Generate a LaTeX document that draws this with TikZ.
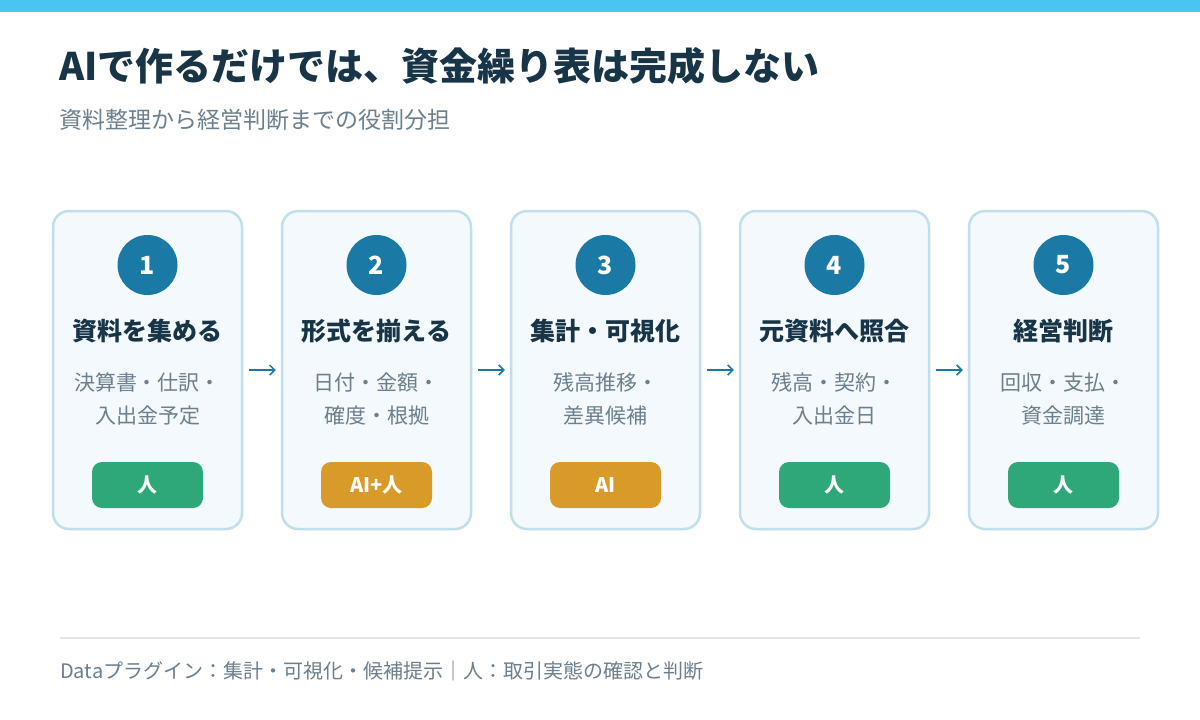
\documentclass[tikz,border=0pt]{standalone}
\usepackage{fontspec}
\setmainfont{Noto Sans CJK JP}
\usetikzlibrary{arrows.meta}

\definecolor{topbar}{HTML}{4AC5EF}
\definecolor{navy}{HTML}{183447}
\definecolor{greytext}{HTML}{6B7F8E}
\definecolor{cardfill}{HTML}{F3F9FC}
\definecolor{cardline}{HTML}{C1DFEA}
\definecolor{stepblue}{HTML}{1A7AA5}
\definecolor{humangreen}{HTML}{2EA878}
\definecolor{aiorange}{HTML}{D89B2A}
\definecolor{rulegrey}{HTML}{DCE6EC}

\tikzset{
  card/.style={draw=cardline, line width=2.5pt, fill=cardfill, rounded corners=16pt,
    minimum width=189pt, minimum height=318pt, inner sep=0pt},
  numdot/.style={circle, fill=stepblue, minimum size=60pt, inner sep=0pt,
    text=white, font=\fontsize{25}{28}\selectfont\bfseries},
  stephead/.style={text=navy, font=\fontsize{25}{28}\selectfont\bfseries},
  stepdesc/.style={text=greytext, align=center, font=\fontsize{21}{33}\selectfont},
  badge/.style={rounded corners=10pt, minimum width=111pt, minimum height=46pt,
    inner sep=0pt, text=white, font=\fontsize{20}{22}\selectfont\bfseries},
  flow/.style={draw=stepblue, line width=1.5pt, -{Straight Barb[length=5pt,width=10pt]},
    shorten <=6pt, shorten >=5pt}
}

\begin{document}
\begin{tikzpicture}[x=1pt, y=-1pt]
\useasboundingbox (0,0) rectangle (1200,720);
\fill[white] (0,0) rectangle (1200,720);
\fill[topbar] (0,0) rectangle (1200,12);

% title
\node[anchor=base west, inner sep=0pt, text=navy, font=\fontsize{38}{40}\selectfont\bfseries]
  (title) at (59,80) {AIで作るだけでは、資金繰り表は完成しない};
\node[anchor=base west, inner sep=0pt, text=greytext, font=\fontsize{23}{26}\selectfont]
  (subtitle) at (59,128) {資料整理から経営判断までの役割分担};

% the five steps
\foreach \i/\head/\desc/\who/\col in {
  1/資料を集める/{決算書・仕訳・\\入出金予定}/人/humangreen,
  2/形式を揃える/{日付・金額・\\確度・根拠}/AI+人/aiorange,
  3/集計・可視化/{残高推移・\\差異候補}/AI/aiorange,
  4/元資料へ照合/{残高・契約・\\入出金日}/人/humangreen,
  5/経営判断/{回収・支払・\\資金調達}/人/humangreen}{
  \pgfmathsetmacro{\cx}{147.5+229*(\i-1)}
  \node[card] (card\i) at (\cx,370) {};
  \node[numdot] (num\i) at (\cx,265) {\i};
  \node[stephead] (head\i) at (\cx,331) {\head};
  \node[stepdesc] (desc\i) at (\cx,399) {\desc};
  \node[badge, fill=\col] (who\i) at (\cx,485) {\who};
}

% arrows between steps
\foreach \i [evaluate=\i as \j using int(\i+1)] in {1,...,4}
  \draw[flow] (card\i.east) -- (card\j.west);

% footer
\coordinate (ruleL) at (60,638);
\coordinate (ruleR) at (1140,638);
\draw[rulegrey, line width=2pt] (ruleL) -- (ruleR);
\node[anchor=base west, inner sep=0pt, text=greytext, font=\fontsize{20}{22}\selectfont]
  (footer) at (60,678) {Dataプラグイン：集計・可視化・候補提示｜人：取引実態の確認と判断};

\end{tikzpicture}
\end{document}
